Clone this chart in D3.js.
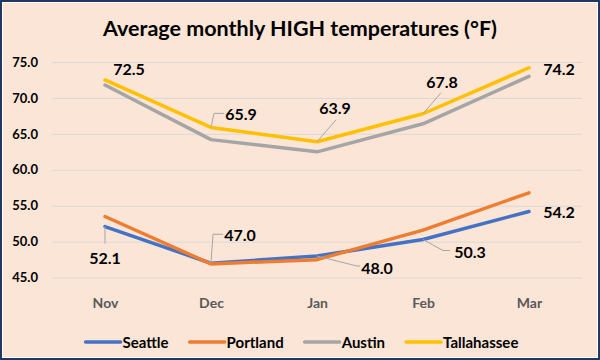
<!DOCTYPE html>
<html lang="en">
<head>
  <meta charset="UTF-8">
  <title>Average monthly HIGH temperatures</title>
  <style>
    body, html {
      margin: 0;
      padding: 0;
      background: #fff;
    }
    svg text {
      font-family: Lato, "Open Sans", sans-serif;
    }
  </style>
</head>
<body>
  <svg id="svg" width="600" height="360"></svg>
  <script src="https://d3js.org/d3.v7.min.js"></script>
  <script>
    // chart values
    const months = ['Nov', 'Dec', 'Jan', 'Feb', 'Mar']
    const cities = ['Seattle', 'Portland', 'Austin', 'Tallahassee']
    const seattle = [52.1, 47.0, 48.0, 50.3, 54.2]
    const portland = [53.5, 46.9, 47.5, 51.6, 56.8]
    const austin = [71.8, 64.2, 62.5, 66.4, 73.0]
    const tallahassee = [72.5, 65.9, 63.9, 67.8, 74.2]
    const yTicks = [45, 50, 55, 60, 65, 70, 75]

    const seriesValues = [seattle, portland, austin, tallahassee]
    const colors = ['#4472C4', '#ED7D31', '#A5A5A5', '#FFC000']

    // label placement (pixel offsets from the point, leader bends relative to the label)
    const labelLayout = {
      Seattle: [
        { dx: 0, dy: 31, leader: [[0, -14]] },
        { dx: 29, dy: -29, leader: [[-27, 0], [-17, 0]] },
        { dx: 60, dy: 11, leader: [[-20, -1], [-17, -1]] },
        { dx: 47, dy: 12, leader: [[-27, -1], [-20, -1]] },
        { dx: 30, dy: 0, leader: null }
      ],
      Tallahassee: [
        { dx: 24, dy: -11, leader: null },
        { dx: 30, dy: -14, leader: [[-27, 0], [-17, 0]] },
        { dx: 18, dy: -34, leader: [[1, 12]] },
        { dx: 19, dy: -32, leader: [[-1, 11]] },
        { dx: 30, dy: 1, leader: null }
      ]
    }

    const width = 600
    const height = 360
    const plot = { left: 52, right: 582, top: 62, bottom: 277.6 }

    const svg = d3.select('#svg')

    // background + frame
    svg.append('rect')
      .attr('x', 1).attr('y', 1)
      .attr('width', width - 2).attr('height', height - 2)
      .attr('fill', '#FBE5D6')
      .attr('stroke', '#1F3864')
      .attr('stroke-width', 2)
    svg.append('rect')
      .attr('x', 2.5).attr('y', 2.5)
      .attr('width', width - 5).attr('height', height - 5)
      .attr('fill', 'none')
      .attr('stroke', '#fff')
      .attr('stroke-width', 1)

    // title
    svg.append('text')
      .attr('x', width / 2)
      .attr('y', 36)
      .attr('text-anchor', 'middle')
      .style('font-size', '21.5px')
      .style('font-weight', 'bold')
      .attr('fill', '#000')
      .text('Average monthly HIGH temperatures (°F)')

    const x = d3.scalePoint()
      .domain(months)
      .range([plot.left, plot.right])
      .padding(0.5)

    const y = d3.scaleLinear()
      .domain([45, 75])
      .range([plot.bottom, plot.top])

    // y axis with gridlines
    const yAxis = svg.append('g')
      .attr('transform', `translate(${plot.left},0)`)
      .call(d3.axisLeft(y)
        .tickValues(yTicks)
        .tickFormat(d3.format('.1f'))
        .tickSizeInner(-(plot.right - plot.left))
        .tickSizeOuter(0)
        .tickPadding(14))
    yAxis.select('.domain').remove()
    yAxis.selectAll('line').attr('stroke', '#D9D9D9').attr('stroke-width', 1)
    yAxis.selectAll('text')
      .attr('fill', '#000')
      .style('font-size', '13px')
      .style('font-weight', 'bold')
      .style('font-family', 'Lato, sans-serif')

    // x axis
    const xAxis = svg.append('g')
      .attr('transform', `translate(0,${plot.bottom})`)
      .call(d3.axisBottom(x).tickSize(0).tickPadding(20))
    xAxis.select('.domain').remove()
    xAxis.selectAll('text')
      .attr('fill', '#595959')
      .style('font-size', '14px')
      .style('font-weight', 'bold')
      .style('font-family', 'Lato, sans-serif')

    // lines
    const lineGen = d3.line()
      .x((d, i) => x(months[i]))
      .y(d => y(d))

    svg.append('g')
      .selectAll('path')
      .data(seriesValues)
      .enter()
      .append('path')
      .attr('d', lineGen)
      .attr('fill', 'none')
      .attr('stroke', (d, i) => colors[i])
      .attr('stroke-width', 3.5)
      .attr('stroke-linecap', 'round')
      .attr('stroke-linejoin', 'round')

    // data labels with leader lines
    const labelGroup = svg.append('g')
    Object.keys(labelLayout).forEach(city => {
      const values = seriesValues[cities.indexOf(city)]
      values.forEach((v, i) => {
        const px = x(months[i])
        const py = y(v)
        const lay = labelLayout[city][i]
        const lx = px + lay.dx
        const ly = py + lay.dy
        if (lay.leader) {
          const pts = [[px, py]].concat(lay.leader.map(p => [lx + p[0], ly + p[1]]))
          labelGroup.append('path')
            .attr('d', d3.line()(pts))
            .attr('fill', 'none')
            .attr('stroke', '#A6A6A6')
            .attr('stroke-width', 1)
        }
        labelGroup.append('text')
          .attr('x', lx)
          .attr('y', ly)
          .attr('text-anchor', 'middle')
          .attr('dominant-baseline', 'central')
          .style('font-size', '16px')
          .style('font-weight', 'bold')
          .attr('fill', '#000')
          .text(d3.format('.1f')(v))
      })
    })

    // legend
    const legend = svg.append('g')
    const items = legend.selectAll('g')
      .data(cities)
      .enter()
      .append('g')
    items.append('line')
      .attr('x1', 0).attr('x2', 35)
      .attr('y1', 0).attr('y2', 0)
      .attr('stroke', (d, i) => colors[i])
      .attr('stroke-width', 3.5)
      .attr('stroke-linecap', 'round')
    items.append('text')
      .attr('x', 37)
      .attr('y', 0)
      .attr('dominant-baseline', 'central')
      .style('font-size', '15px')
      .style('font-weight', 'bold')
      .attr('fill', '#000')
      .text(d => d)

    let offset = 0
    const positions = []
    items.each(function () {
      positions.push(offset)
      const w = 37 + d3.select(this).select('text').node().getComputedTextLength()
      offset += w + 21
    })
    const total = offset - 21
    const startX = 302 - total / 2
    items.attr('transform', (d, i) => `translate(${startX + positions[i]},342)`)
  </script>
</body>
</html>
